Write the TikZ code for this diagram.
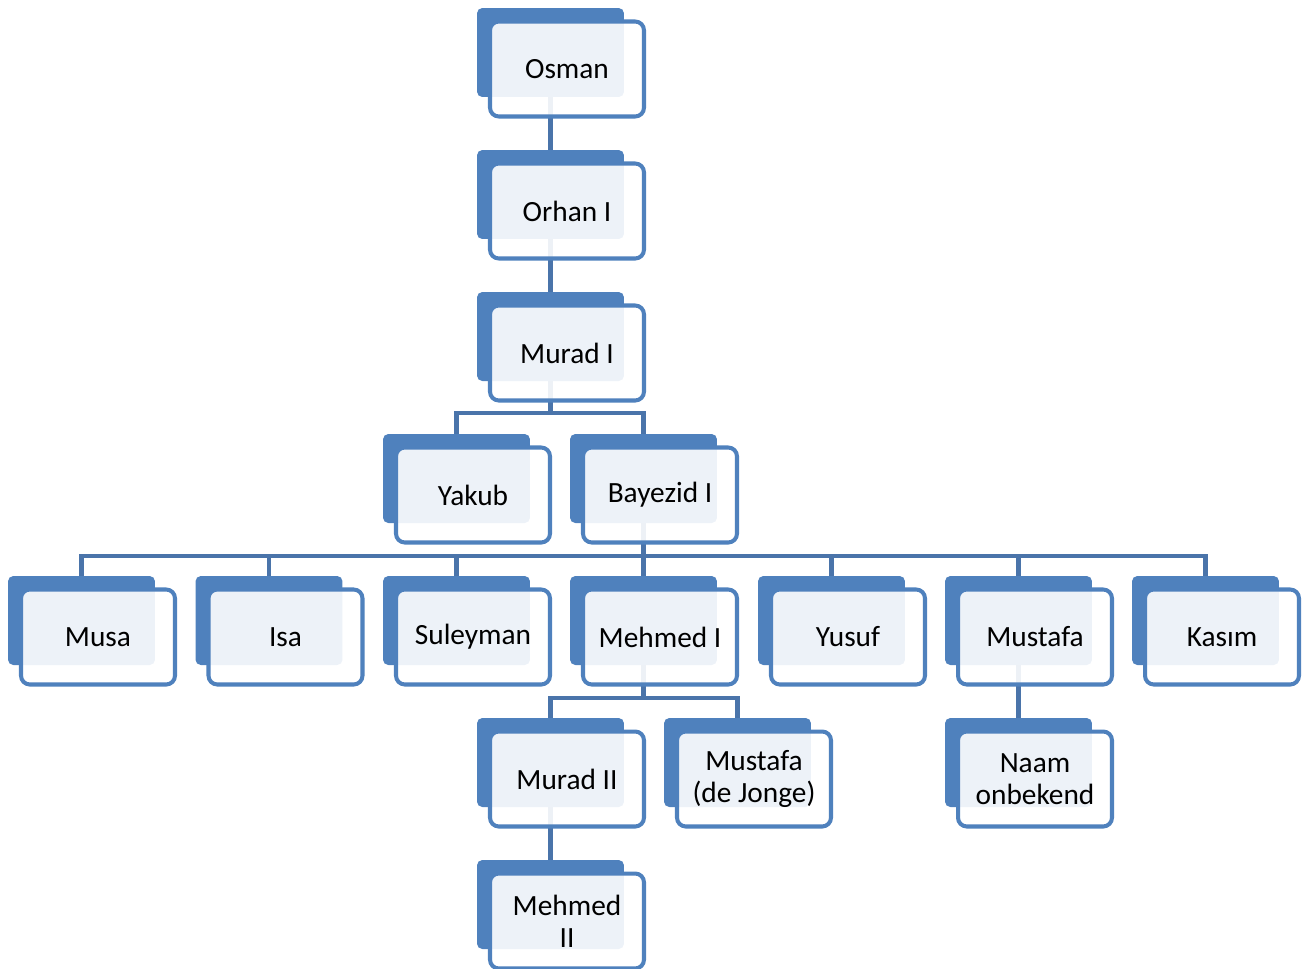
\documentclass[tikz,border=0pt]{standalone}
\usepackage{fontspec}
\setmainfont{Carlito}
\definecolor{boxblue}{RGB}{79,129,189}
\definecolor{lineblue}{RGB}{74,116,170}
\tikzset{
  back/.style={fill=boxblue, rounded corners=3pt, minimum width=2.94cm, minimum height=1.78cm, inner sep=0pt, outer sep=0pt},
  front/.style={draw=boxblue, line width=2.3pt, fill=white, fill opacity=0.9, text opacity=1, rounded corners=5pt, minimum width=3.08cm, minimum height=1.9cm, inner sep=0pt, outer sep=0pt, align=center, font=\fontsize{16.7}{18}\selectfont},
  link/.style={draw=lineblue, line width=2.4pt}
}
\begin{document}
\begin{tikzpicture}[x=0.02cm,y=-0.02cm]
\useasboundingbox (0,0) rectangle (1303,968);

% back blocks
\node (osman) [back] at (550.5,52.5) {};
\node (orhan) [back] at (550.5,194.5) {};
\node (murad1) [back] at (550.5,336.5) {};
\node (yakub) [back] at (456.5,478.5) {};
\node (bayezid) [back] at (643.5,478.5) {};
\node (musa) [back] at (81.5,620.5) {};
\node (isa) [back] at (269,620.5) {};
\node (suleyman) [back] at (456.5,620.5) {};
\node (mehmed1) [back] at (643.5,620.5) {};
\node (yusuf) [back] at (831.5,620.5) {};
\node (mustafa) [back] at (1018.5,620.5) {};
\node (kasim) [back] at (1205.5,620.5) {};
\node (murad2) [back] at (550.5,762.5) {};
\node (mustafa2) [back] at (737.5,762.5) {};
\node (naam) [back] at (1018.5,762.5) {};
\node (mehmed2) [back] at (550.5,904.5) {};

% connectors
\draw [link] (osman.south) -- (orhan.north);
\draw [link] (orhan.south) -- (murad1.north);
\draw [link] (murad1.south) -- ++(0,32) -| (yakub.north);
\draw [link] (murad1.south) -- ++(0,32) -| (bayezid.north);
\foreach \c in {musa,isa,suleyman,mehmed1,yusuf,mustafa,kasim}
  \draw [link] (bayezid.south) -- ++(0,33) -| (\c.north);
\draw [link] (mehmed1.south) -- ++(0,33) -| (murad2.north);
\draw [link] (mehmed1.south) -- ++(0,33) -| (mustafa2.north);
\draw [link] (mustafa.south) -- (naam.north);
\draw [link] (murad2.south) -- (mehmed2.north);

% front blocks
\node (osman-t) [front] at ([shift={(16.5,16.5)}]osman.center) {Osman};
\node (orhan-t) [front] at ([shift={(16.5,16.5)}]orhan.center) {Orhan I};
\node (murad1-t) [front] at ([shift={(16.5,16.5)}]murad1.center) {Murad I};
\node (yakub-t) [front] at ([shift={(16.5,16.5)}]yakub.center) {Yakub};
\node (bayezid-t) [front] at ([shift={(16.5,16.5)}]bayezid.center) {Bayezid I};
\node (musa-t) [front] at ([shift={(16.5,16.5)}]musa.center) {Musa};
\node (isa-t) [front] at ([shift={(16.5,16.5)}]isa.center) {Isa};
\node (suleyman-t) [front] at ([shift={(16.5,16.5)}]suleyman.center) {Suleyman};
\node (mehmed1-t) [front] at ([shift={(16.5,16.5)}]mehmed1.center) {Mehmed I};
\node (yusuf-t) [front] at ([shift={(16.5,16.5)}]yusuf.center) {Yusuf};
\node (mustafa-t) [front] at ([shift={(16.5,16.5)}]mustafa.center) {Mustafa};
\node (kasim-t) [front] at ([shift={(16.5,16.5)}]kasim.center) {Kasım};
\node (murad2-t) [front] at ([shift={(16.5,16.5)}]murad2.center) {Murad II};
\node (mustafa2-t) [front] at ([shift={(16.5,16.5)}]mustafa2.center) {Mustafa\\(de Jonge)};
\node (naam-t) [front] at ([shift={(16.5,16.5)}]naam.center) {Naam\\onbekend};
\node (mehmed2-t) [front] at ([shift={(16.5,16.5)}]mehmed2.center) {Mehmed\\II};
\end{tikzpicture}
\end{document}
